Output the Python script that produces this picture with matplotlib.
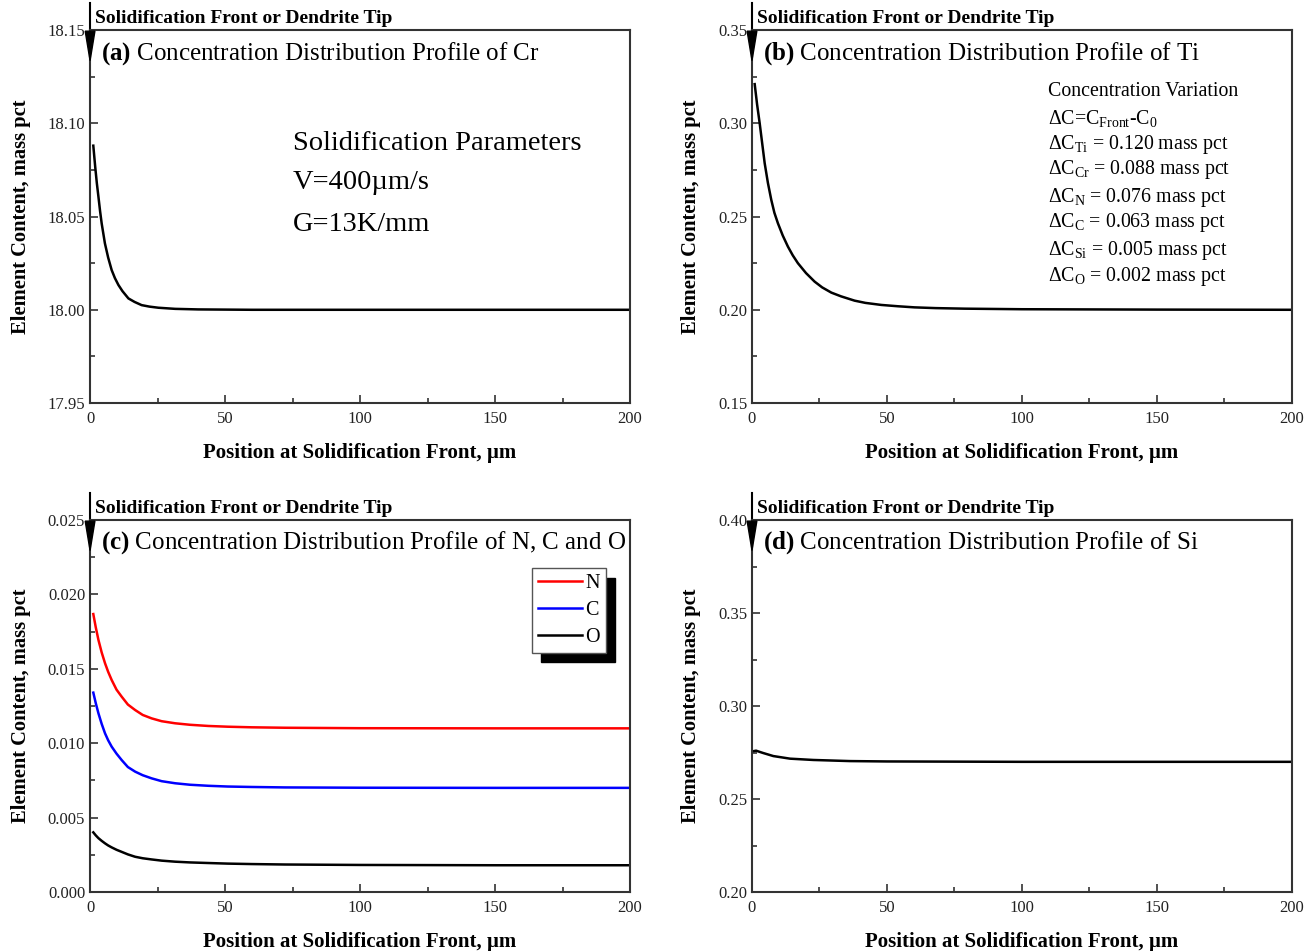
import matplotlib
matplotlib.use("Agg")
import matplotlib.pyplot as plt
from matplotlib.ticker import MultipleLocator, FormatStrFormatter

plt.rcParams["font.family"] = ["Liberation Serif", "DejaVu Serif"]
plt.rcParams["mathtext.fontset"] = "custom"
plt.rcParams["mathtext.rm"] = "Liberation Serif"
plt.rcParams["mathtext.it"] = "Liberation Serif:italic"
plt.rcParams["mathtext.bf"] = "Liberation Serif:bold"

# --- data ---
x_cr = [1.2, 1.9, 2.5, 3.1, 3.7, 4.3, 5.5, 6.7, 8.0, 9.2, 10.5, 12, 14.2, 16.5, 19.1, 22,
        25.3, 31.5, 40, 60, 100, 150, 200]
cr = [18.088, 18.0767, 18.068, 18.0606, 18.053, 18.0463, 18.0356, 18.028, 18.0213, 18.017,
      18.0133, 18.010, 18.0061, 18.0042, 18.0025, 18.0017, 18.0011, 18.0005, 18.0002,
      18.0, 18.0, 18.0, 18.0]

x_ti = [1.0, 1.9, 2.85, 3.8, 4.7, 5.9, 7.15, 8.3, 9.6, 11.4, 13.3, 15.1, 17.0, 20, 23.2,
        26, 29.4, 33, 38.0, 42, 47.9, 54, 60.2, 68, 78.8, 100, 150, 200]
ti = [0.321, 0.310, 0.300, 0.289, 0.2786, 0.268, 0.2589, 0.252, 0.2464, 0.2398, 0.2339,
      0.2292, 0.2250, 0.2197, 0.2151, 0.2120, 0.2092, 0.2072, 0.2049, 0.2037, 0.2026,
      0.2019, 0.2013, 0.2009, 0.2006, 0.2003, 0.2001, 0.2000]

x_nco = [1.2, 2.1, 3.1, 4.3, 5.55, 6.7, 8.0, 9.8, 11.7, 14, 16.7, 19.5, 22.8, 26.5, 31.5,
         37, 43.8, 51, 59.9, 72.2, 100, 150, 200]
n = [0.01868, 0.0178, 0.01694, 0.0161, 0.01537, 0.0148, 0.01425, 0.0136, 0.01313, 0.0126,
     0.01223, 0.0119, 0.01167, 0.01148, 0.01134, 0.01124, 0.01116, 0.01111, 0.01107,
     0.01104, 0.01101, 0.0110, 0.0110]
c = [0.01340, 0.0127, 0.01201, 0.0113, 0.01066, 0.0102, 0.00977, 0.0093, 0.00887, 0.0084,
     0.00809, 0.00785, 0.00764, 0.00745, 0.00731, 0.00721, 0.00714, 0.00709, 0.00706,
     0.00703, 0.00701, 0.0070, 0.0070]
o = [0.00401, 0.00381, 0.00362, 0.00344, 0.00327, 0.00313, 0.00300, 0.00284, 0.00270,
     0.00253, 0.00237, 0.00227, 0.00219, 0.00211, 0.00204, 0.00199, 0.00195, 0.00191,
     0.00188, 0.00185, 0.00182, 0.0018, 0.0018]

x_si = [0.8, 1.5, 4.0, 7.9, 14.1, 22.7, 36.3, 50, 100, 150, 200]
si = [0.2758, 0.2760, 0.2748, 0.2731, 0.2717, 0.2710, 0.2704, 0.2702, 0.2700, 0.2700, 0.2700]

titles = ["Concentration Distribution Profile of Cr",
          "Concentration Distribution Profile of Ti",
          "Concentration Distribution Profile of N, C and O",
          "Concentration Distribution Profile of Si"]
tags = ["(a)", "(b)", "(c)", "(d)"]
ylims = [(17.95, 18.15), (0.15, 0.35), (0.0, 0.025), (0.20, 0.40)]
ymajor = [0.05, 0.05, 0.005, 0.05]
yfmt = ["%.2f", "%.2f", "%.3f", "%.2f"]

variation = ["Concentration Variation",
             r"$\Delta$C=C$_{\rm Front}$-C$_{\rm 0}$",
             r"$\Delta$C$_{\rm Ti}$ = 0.120 mass pct",
             r"$\Delta$C$_{\rm Cr}$ = 0.088 mass pct",
             r"$\Delta$C$_{\rm N}$ = 0.076 mass pct",
             r"$\Delta$C$_{\rm C}$ = 0.063 mass pct",
             r"$\Delta$C$_{\rm Si}$ = 0.005 mass pct",
             r"$\Delta$C$_{\rm O}$ = 0.002 mass pct"]
var_y = [0.834, 0.764, 0.694, 0.625, 0.552, 0.483, 0.410, 0.338]

fig = plt.figure(figsize=(13.11, 9.51), dpi=100)
pos = [(0.0687, 0.5762, 0.4119, 0.3922), (0.5736, 0.5762, 0.4119, 0.3922),
       (0.0687, 0.0620, 0.4119, 0.3912), (0.5736, 0.0620, 0.4119, 0.3912)]
axes = [fig.add_axes(p) for p in pos]

spine_col = "#333333"
for i, ax in enumerate(axes):
    ax.set_xlim(0, 200)
    ax.set_ylim(*ylims[i])
    ax.xaxis.set_major_locator(MultipleLocator(50))
    ax.xaxis.set_minor_locator(MultipleLocator(25))
    ax.yaxis.set_major_locator(MultipleLocator(ymajor[i]))
    ax.yaxis.set_minor_locator(MultipleLocator(ymajor[i] / 2))
    ax.yaxis.set_major_formatter(FormatStrFormatter(yfmt[i]))
    ax.tick_params(which="both", direction="in", color=spine_col, labelcolor="#222222",
                   labelsize=12, width=1.2, top=False, right=False)
    ax.tick_params(which="major", length=6)
    ax.tick_params(which="minor", length=3.5)
    ax.tick_params(axis="x", pad=6)
    for s in ax.spines.values():
        s.set_color(spine_col)
        s.set_linewidth(1.5)
    ax.set_xlabel("Position at Solidification Front, µm", fontsize=15, fontweight="bold", labelpad=11)
    ax.set_ylabel("Element Content, mass pct", fontsize=14.8, fontweight="bold", labelpad=12)

    # front marker: extended left line + downward arrow head
    ax.plot([0, 0], [0.93, 1.073], transform=ax.transAxes, color="black", lw=1.5, clip_on=False)
    ax.fill([-0.009, 0.009, 0.0], [0.997, 0.997, 0.918], transform=ax.transAxes,
            color="black", clip_on=False, zorder=5)
    ax.text(0.009, 1.008, "Solidification Front or Dendrite Tip", transform=ax.transAxes,
            fontsize=14, fontweight="bold", ha="left", va="bottom")
    ax.text(0.02, 0.938, r"$\mathbf{" + tags[i] + "}$ " + titles[i], transform=ax.transAxes,
            fontsize=18, ha="left", va="center")

axes[0].plot(x_cr, cr, color="black", lw=1.8, solid_joinstyle="round")
axes[0].text(0.376, 0.697, "Solidification Parameters", transform=axes[0].transAxes, fontsize=20.5, va="center")
axes[0].text(0.376, 0.590, "V=400µm/s", transform=axes[0].transAxes, fontsize=20.5, va="center")
axes[0].text(0.376, 0.480, "G=13K/mm", transform=axes[0].transAxes, fontsize=20.5, va="center")

axes[1].plot(x_ti, ti, color="black", lw=1.8, solid_joinstyle="round")
for txt, yy in zip(variation, var_y):
    axes[1].text(0.548, yy, txt, transform=axes[1].transAxes, fontsize=14.3, va="center")

axes[2].plot(x_nco, n, color="#ff0000", lw=1.8, label="N", solid_joinstyle="round")
axes[2].plot(x_nco, c, color="#0000ff", lw=1.8, label="C", solid_joinstyle="round")
axes[2].plot(x_nco, o, color="black", lw=1.8, label="O", solid_joinstyle="round")
leg = axes[2].legend(loc="upper right", bbox_to_anchor=(0.955, 0.871), fontsize=14.5,
                     frameon=True, fancybox=False, edgecolor="#555555", framealpha=1,
                     shadow={"color": "black", "alpha": 1, "ox": 7, "oy": -7},
                     handlelength=2.2, handletextpad=0.15, borderpad=0.3,
                     labelspacing=0.38, borderaxespad=0)
leg.get_frame().set_linewidth(1.0)

axes[3].plot(x_si, si, color="black", lw=1.8, solid_joinstyle="round")

plt.savefig("out.png", dpi=100)
print("Saved out.png")
